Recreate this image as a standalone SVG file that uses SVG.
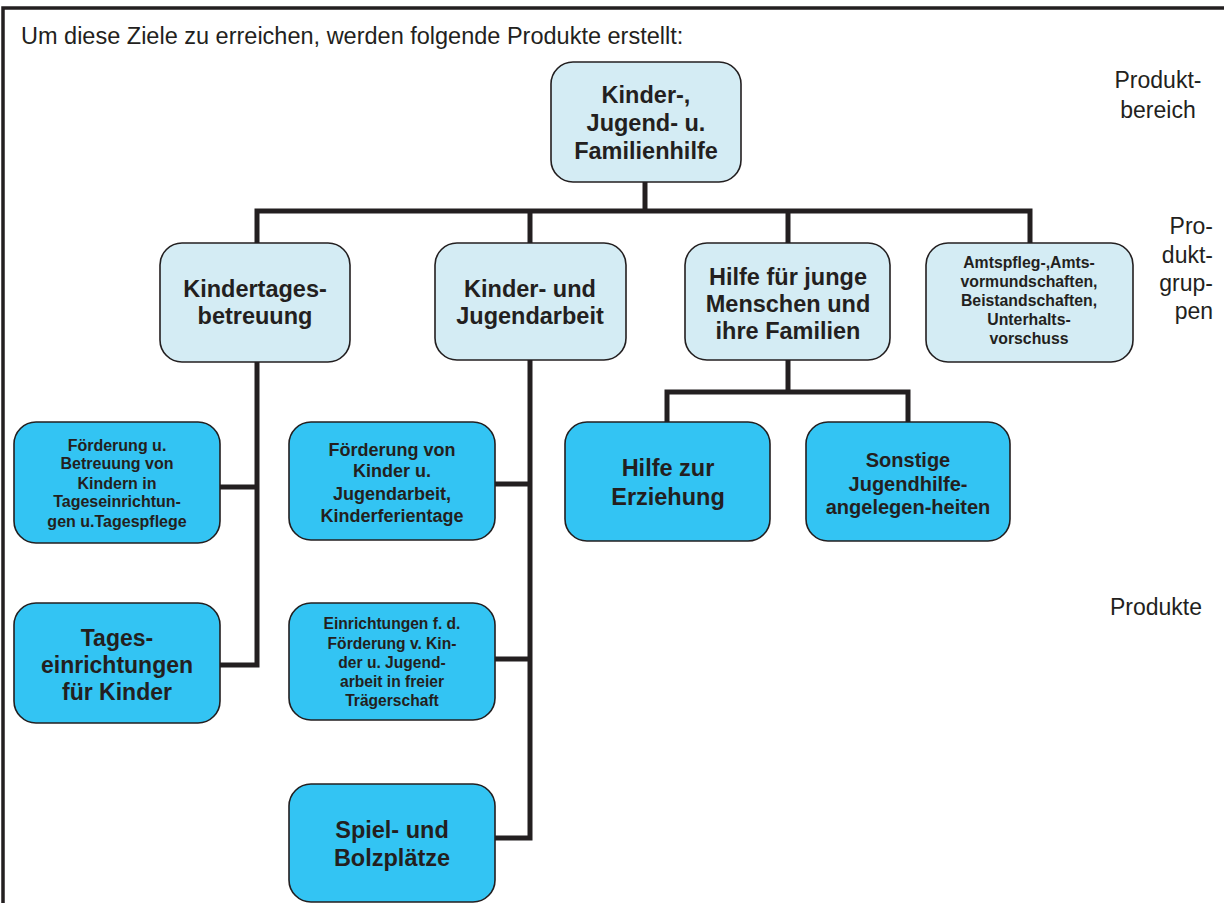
<svg xmlns="http://www.w3.org/2000/svg" width="1224" height="903" viewBox="0 0 1224 903">
<style>
text{font-family:"Liberation Sans",Arial,sans-serif;fill:#231f20}
.b{font-weight:bold;text-anchor:middle}
.lt{fill:#d4ecf4;stroke:#231f20;stroke-width:1.6}
.dk{fill:#33c4f3;stroke:#231f20;stroke-width:1.6}
.c{fill:none;stroke:#231f20;stroke-width:5;stroke-linecap:butt;stroke-linejoin:miter}
.lab{font-size:23px}
.g{font-size:23.5px}
</style>
<rect width="1224" height="903" fill="#ffffff"/>
<g id="frame">
<path d="M3,903 V8 H1224" fill="none" stroke="#231f20" stroke-width="3.5"/>
</g>
<text x="21" y="44" font-size="23.5">Um diese Ziele zu erreichen, werden folgende Produkte erstellt:</text>
<g id="labels" class="lab">
<text x="1158" y="88" text-anchor="middle">Produkt-</text>
<text x="1158" y="118" text-anchor="middle">bereich</text>
<text x="1213" y="234" text-anchor="end">Pro-</text>
<text x="1213" y="263" text-anchor="end">dukt-</text>
<text x="1213" y="291" text-anchor="end">grup-</text>
<text x="1213" y="319" text-anchor="end">pen</text>
<text x="1110" y="615">Produkte</text>
</g>
<g id="connectors">
<path class="c" d="M645,182 V211"/>
<path class="c" d="M257,243 V211 H1030 V243"/>
<path class="c" d="M530,211 V243"/>
<path class="c" d="M788,211 V243"/>
<path class="c" d="M257,362 V665 H220"/>
<path class="c" d="M257,487 H220"/>
<path class="c" d="M530,360 V838 H495"/>
<path class="c" d="M530,484 H495"/>
<path class="c" d="M530,659 H495"/>
<path class="c" d="M788,360 V392"/>
<path class="c" d="M667,422 V392 H908 V422"/>
</g>
<g id="root">
<rect class="lt" x="551" y="62" width="190" height="120" rx="22"/>
<text class="b g" x="646" y="103">Kinder-,</text>
<text class="b g" x="646" y="131">Jugend- u.</text>
<text class="b g" x="646" y="159">Familienhilfe</text>
</g>
<g id="g1">
<rect class="lt" x="160" y="243" width="190" height="119" rx="22"/>
<text class="b g" x="255" y="297">Kindertages-</text>
<text class="b g" x="255" y="324">betreuung</text>
</g>
<g id="g2">
<rect class="lt" x="435" y="243" width="191" height="117" rx="22"/>
<text class="b g" x="530" y="297">Kinder- und</text>
<text class="b g" x="530" y="324">Jugendarbeit</text>
</g>
<g id="g3">
<rect class="lt" x="685" y="243" width="205" height="117" rx="22"/>
<text class="b g" x="788" y="285">Hilfe für junge</text>
<text class="b g" x="788" y="312">Menschen und</text>
<text class="b g" x="788" y="339">ihre Familien</text>
</g>
<g id="g4">
<rect class="lt" x="926" y="243" width="207" height="119" rx="22"/>
<text class="b" font-size="15.8" x="1029" y="268">Amtspfleg-,Amts-</text>
<text class="b" font-size="15.8" x="1029" y="287">vormundschaften,</text>
<text class="b" font-size="15.8" x="1029" y="306">Beistandschaften,</text>
<text class="b" font-size="15.8" x="1029" y="325">Unterhalts-</text>
<text class="b" font-size="15.8" x="1029" y="344">vorschuss</text>
</g>
<g id="p1">
<rect class="dk" x="14" y="422" width="206" height="121" rx="22"/>
<text class="b" font-size="16" x="117" y="451">Förderung u.</text>
<text class="b" font-size="16" x="117" y="469">Betreuung von</text>
<text class="b" font-size="16" x="117" y="489">Kindern in</text>
<text class="b" font-size="16" x="117" y="507">Tageseinrichtun-</text>
<text class="b" font-size="16" x="117" y="527">gen u.Tagespflege</text>
</g>
<g id="p2">
<rect class="dk" x="14" y="603" width="206" height="120" rx="22"/>
<text class="b" font-size="23" x="117" y="646">Tages-</text>
<text class="b" font-size="23" x="117" y="673">einrichtungen</text>
<text class="b" font-size="23" x="117" y="700">für Kinder</text>
</g>
<g id="p3">
<rect class="dk" x="289" y="422" width="206" height="118" rx="22"/>
<text class="b" font-size="18" x="392" y="456">Förderung von</text>
<text class="b" font-size="18" x="392" y="477">Kinder u.</text>
<text class="b" font-size="18" x="392" y="500">Jugendarbeit,</text>
<text class="b" font-size="18" x="392" y="522">Kinderferientage</text>
</g>
<g id="p4">
<rect class="dk" x="289" y="603" width="206" height="117" rx="22"/>
<text class="b" font-size="15.6" x="392" y="629">Einrichtungen f. d.</text>
<text class="b" font-size="15.6" x="392" y="649">Förderung v. Kin-</text>
<text class="b" font-size="15.6" x="392" y="668">der u. Jugend-</text>
<text class="b" font-size="15.6" x="392" y="687">arbeit in freier</text>
<text class="b" font-size="15.6" x="392" y="706">Trägerschaft</text>
</g>
<g id="p5">
<rect class="dk" x="289" y="784" width="206" height="118" rx="22"/>
<text class="b g" x="392" y="838">Spiel- und</text>
<text class="b g" x="392" y="866">Bolzplätze</text>
</g>
<g id="p6">
<rect class="dk" x="565" y="422" width="205" height="119" rx="22"/>
<text class="b g" x="668" y="476">Hilfe zur</text>
<text class="b g" x="668" y="505">Erziehung</text>
</g>
<g id="p7">
<rect class="dk" x="806" y="422" width="204" height="119" rx="22"/>
<text class="b" font-size="20" x="908" y="467">Sonstige</text>
<text class="b" font-size="20" x="908" y="491">Jugendhilfe-</text>
<text class="b" font-size="20" x="908" y="514">angelegen-heiten</text>
</g>
</svg>
